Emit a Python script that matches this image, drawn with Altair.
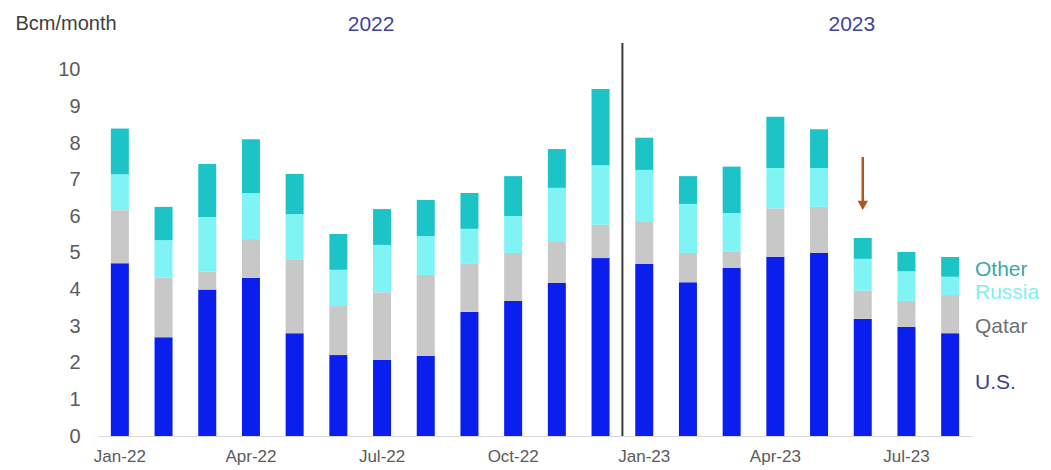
import altair as alt
import pandas as pd

months = ["Jan-22", "Feb-22", "Mar-22", "Apr-22", "May-22", "Jun-22", "Jul-22", "Aug-22",
          "Sep-22", "Oct-22", "Nov-22", "Dec-22", "Jan-23", "Feb-23", "Mar-23", "Apr-23",
          "May-23", "Jun-23", "Jul-23", "Aug-23"]
us =     [4.72, 2.70, 4.00, 4.32, 2.81, 2.21, 2.08, 2.19, 3.39, 3.69, 4.18, 4.86, 4.70, 4.20, 4.59, 4.90, 5.00, 3.20, 2.98, 2.81]
qatar =  [1.45, 1.63, 0.49, 1.06, 2.00, 1.34, 1.85, 2.21, 1.33, 1.31, 1.12, 0.91, 1.15, 0.80, 0.44, 1.32, 1.26, 0.77, 0.71, 1.04]
russia = [0.98, 1.02, 1.49, 1.25, 1.25, 0.99, 1.29, 1.06, 0.94, 1.01, 1.48, 1.63, 1.42, 1.34, 1.06, 1.10, 1.06, 0.87, 0.81, 0.50]
other =  [1.25, 0.91, 1.45, 1.48, 1.10, 0.98, 0.98, 0.99, 0.98, 1.09, 1.06, 2.08, 0.88, 0.76, 1.27, 1.40, 1.06, 0.57, 0.53, 0.54]

sources = ["U.S.", "Qatar", "Russia", "Other"]
bar_colors = ["#0A1EEE", "#C8C8C8", "#80F4F4", "#1CC4C8"]
label_colors = ["#3A3F8C", "#707070", "#80F0F0", "#3CA8A0"]
tick_labels = ["Jan-22", "Apr-22", "Jul-22", "Oct-22", "Jan-23", "Apr-23", "Jul-23"]
y_ticks = list(range(0, 11))
years = ["2022", "2023"]
year_months = ["Jul-22", "Jun-23"]
divider_month = ["Dec-22"]
arrow_month = ["Jun-23"]
arrow_from = [7.62]
arrow_to = [6.4]
arrow_tip = [6.3]

rows = []
for i, m in enumerate(months):
    for k, (name, arr) in enumerate(zip(sources, [us, qatar, russia, other])):
        rows.append({"month": m, "source": name, "value": arr[i], "order": k})
df = pd.DataFrame(rows)

FONT = "Liberation Sans"
W, H = 874, 392
xscale = alt.Scale(domain=months, paddingInner=0, paddingOuter=0)
yscale = alt.Scale(domain=[0, 10.71], nice=False)

xaxis = alt.Axis(values=tick_labels, labelAngle=0, ticks=False, domainColor="#D9D9D9",
                 domainWidth=1, labelPadding=12, labelFontSize=17, labelColor="#5A5A5A",
                 labelFont=FONT, grid=False, labelOverlap=False, title=None)
yaxis = alt.Axis(values=y_ticks, ticks=False, domain=False, grid=False, labelOverlap=False,
                 labelFontSize=20, labelColor="#5A5A5A", labelFont=FONT, labelPadding=18,
                 title="Bcm/month", titleAngle=0, titleAlign="left", titleBaseline="middle",
                 titleX=-83, titleY=-21, titleFont=FONT, titleFontSize=20,
                 titleFontWeight="normal", titleColor="#404040")


def X(**kw):
    return alt.X("month:N", scale=xscale, sort=months, axis=xaxis, **kw)


def Y(field, **kw):
    return alt.Y(field, scale=yscale, axis=yaxis, **kw)


bars = alt.Chart(df).mark_bar(size=18).encode(
    x=X(),
    y=Y("value:Q", stack="zero"),
    color=alt.Color("source:N", scale=alt.Scale(domain=sources, range=bar_colors), legend=None),
    order=alt.Order("order:Q", sort="ascending"),
)

divider = alt.Chart(pd.DataFrame({"month": divider_month})).mark_rule(
    color="#3A3A3A", strokeWidth=2).encode(
    x=X(bandPosition=1),
    y=alt.value(-1), y2=alt.value(H),
)

arrow_df = pd.DataFrame({"month": arrow_month, "a": arrow_from, "b": arrow_to, "tip": arrow_tip})
arrow_line = alt.Chart(arrow_df).mark_rule(color="#B4541E", strokeWidth=2.5).encode(
    x=X(), y=Y("a:Q"), y2="b:Q")
arrow_head = alt.Chart(arrow_df).mark_point(shape="triangle-down", filled=True, size=110,
                                            color="#B4541E", opacity=1).encode(
    x=X(), y=Y("tip:Q"))

year_text = alt.Chart(pd.DataFrame({"month": year_months, "label": years})).mark_text(
    font=FONT, fontSize=21, color="#3F42A0", align="center", baseline="middle").encode(
    x=X(bandPosition=0.25), y=alt.value(-19), text="label:N")

legend_layers = []
legend_y = [383, 327, 293, 270]
for name, col, py in zip(sources, label_colors, legend_y):
    legend_layers.append(
        alt.Chart(pd.DataFrame({"label": [name]})).mark_text(
            font=FONT, fontSize=21, color=col, align="left", baseline="middle").encode(
            x=alt.value(877), y=alt.value(py - 44), text="label:N"))

chart = alt.layer(bars, divider, arrow_line, arrow_head, year_text, *legend_layers).properties(
    width=W, height=H,
    background="white",
    autosize=alt.AutoSizeParams(type="none"),
    padding={"left": 98, "top": 44, "right": 79, "bottom": 34},
).configure_view(strokeWidth=0, stroke=None)

chart.save("out.html", embed_options={"renderer": "svg", "actions": False})
